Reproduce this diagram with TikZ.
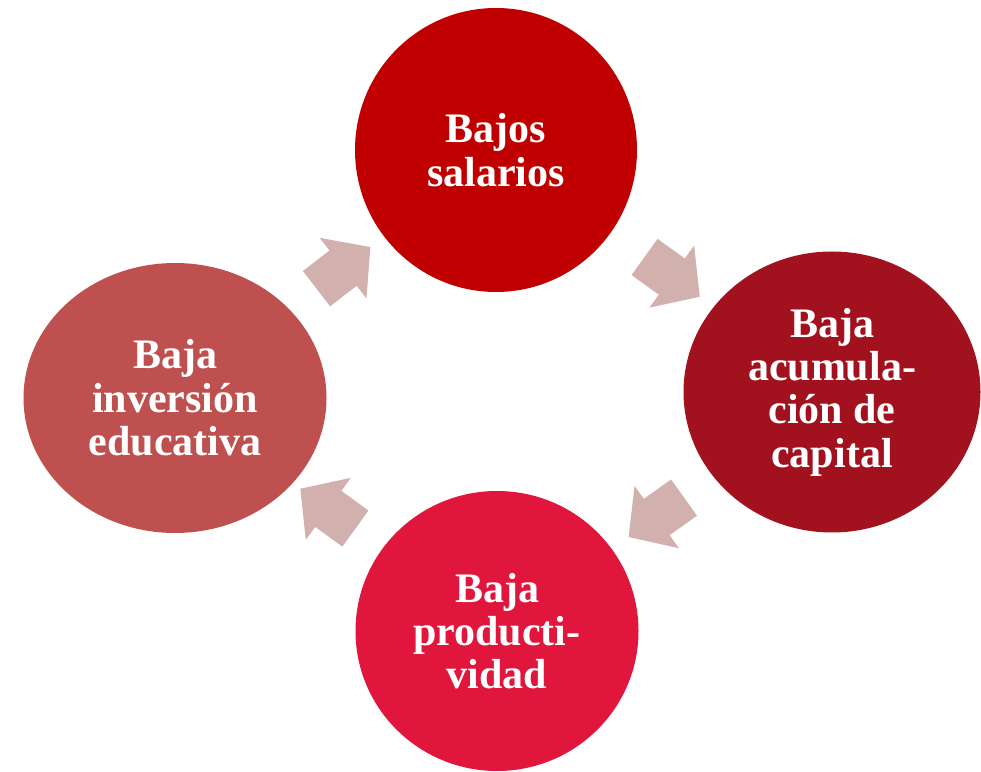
\documentclass[tikz,border=0pt]{standalone}
\usepackage{fontspec}
\setmainfont{Liberation Serif}
\usepackage{tikz}
\usetikzlibrary{shapes.geometric,shapes.arrows}

\definecolor{salarioRed}{HTML}{C00000}
\definecolor{capitalRed}{HTML}{A2121E}
\definecolor{productRed}{HTML}{E0163D}
\definecolor{educaRed}{HTML}{BE5150}
\definecolor{arrowPink}{HTML}{D1B0AD}

\begin{document}
\begin{tikzpicture}[x=0.75pt,y=0.75pt,
  bubble/.style={ellipse,inner sep=0pt,text=white,align=center,
    font=\bfseries\fontsize{31.5}{32.5}\selectfont},
  cyclearrow/.style={single arrow,sloped,allow upside down,fill=arrowPink,
    draw=none,inner sep=16.5pt,minimum height=51pt,
    single arrow head extend=12pt,single arrow tip angle=96}]
\useasboundingbox (0,0) rectangle (981,771);
\node[bubble,fill=salarioRed,minimum width=211.5pt,minimum height=213pt] (salarios) at (496,621) {Bajos\\salarios};
\node[bubble,fill=capitalRed,minimum width=222.75pt,minimum height=210.75pt] (capital) at (832,379) {Baja\\acumula-\\ción de\\capital};
\node[bubble,fill=productRed,minimum width=212.25pt,minimum height=210pt] (productividad) at (497,140) {Baja\\producti-\\vidad};
\node[bubble,fill=educaRed,minimum width=227.25pt,minimum height=202.5pt] (educacion) at (175,373) {Baja\\inversión\\educativa};
\path (salarios.center) -- node[cyclearrow] (a1) {} (capital.center);
\path (capital.center) -- node[cyclearrow] (a2) {} (productividad.center);
\path (productividad.center) -- node[cyclearrow] (a3) {} (educacion.center);
\path (educacion.center) -- node[cyclearrow] (a4) {} (salarios.center);
\end{tikzpicture}
\end{document}
